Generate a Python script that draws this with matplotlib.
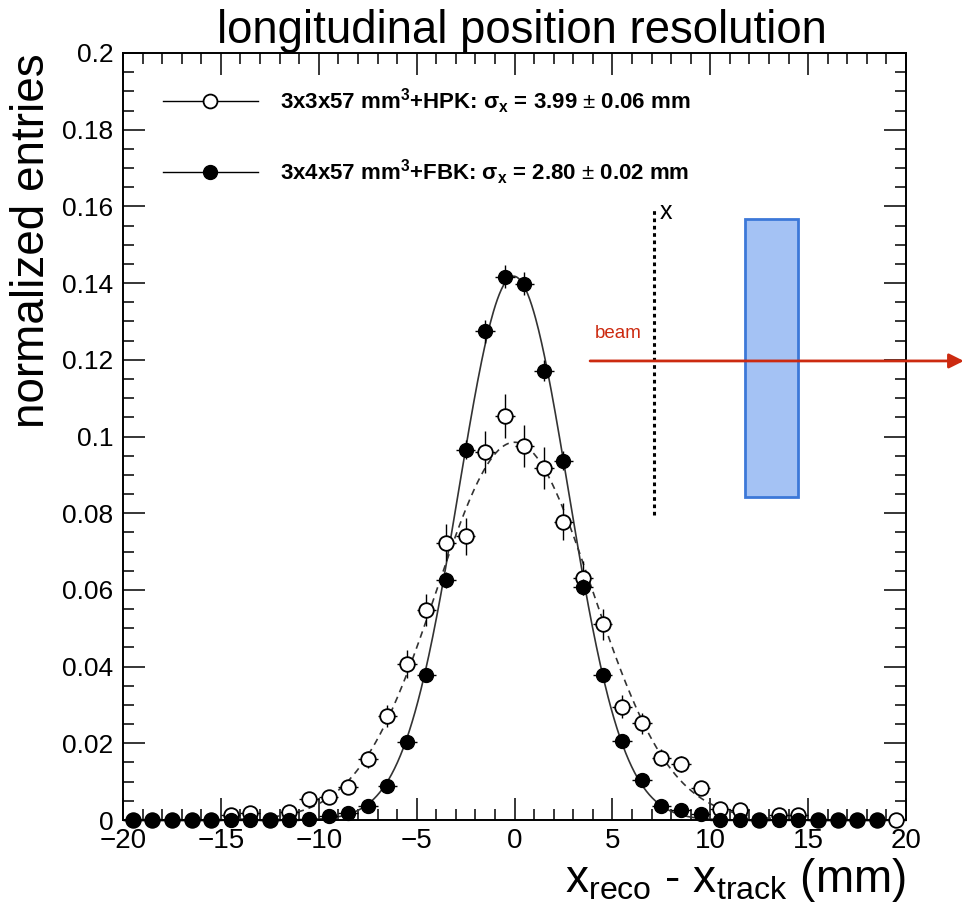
import numpy as np
import matplotlib
matplotlib.use("Agg")
import matplotlib.pyplot as plt
from matplotlib.lines import Line2D
from matplotlib.patches import Rectangle

plt.rcParams['font.family'] = ['Liberation Sans', 'DejaVu Sans']
plt.rcParams['mathtext.fontset'] = 'custom'
plt.rcParams['mathtext.rm'] = 'Liberation Sans'
plt.rcParams['mathtext.it'] = 'Liberation Sans:italic'
plt.rcParams['mathtext.bf'] = 'Liberation Sans:bold'

# ---------------- data ----------------
bin_centers = [-19.5, -18.5, -17.5, -16.5, -15.5, -14.5, -13.5, -12.5, -11.5, -10.5,
               -9.5, -8.5, -7.5, -6.5, -5.5, -4.5, -3.5, -2.5, -1.5, -0.5,
               0.5, 1.5, 2.5, 3.5, 4.5, 5.5, 6.5, 7.5, 8.5, 9.5,
               10.5, 11.5, 12.5, 13.5, 14.5, 15.5, 16.5, 17.5, 18.5, 19.5]

hpk_y = [0, 0, 0, 0, 0, 0.0012, 0.0018, 0, 0.0022, 0.0054,
         0.0059, 0.0085, 0.0158, 0.0271, 0.0407, 0.0548, 0.0723, 0.0740, 0.0960, 0.1053,
         0.0976, 0.0918, 0.0778, 0.0631, 0.0510, 0.0296, 0.0252, 0.0163, 0.0146, 0.0083,
         0.0030, 0.0026, 0, 0.0014, 0.0014, 0, 0, 0, 0, 0]
hpk_err = [0, 0, 0, 0, 0, 0.0006, 0.0008, 0, 0.0008, 0.0013,
           0.0014, 0.0016, 0.0022, 0.0029, 0.0036, 0.0041, 0.0048, 0.0048, 0.0055, 0.0057,
           0.0055, 0.0054, 0.0049, 0.0044, 0.0040, 0.0030, 0.0028, 0.0023, 0.0021, 0.0016,
           0.0010, 0.0009, 0, 0.0007, 0.0007, 0, 0, 0, 0, 0]

fbk_x = bin_centers[:-1]
fbk_y = [0, 0, 0, 0, 0, 0, 0, 0, 0, 0.0002,
         0.0011, 0.0018, 0.0036, 0.0088, 0.0203, 0.0377, 0.0626, 0.0966, 0.1274, 0.1416,
         0.1398, 0.1172, 0.0937, 0.0608, 0.0377, 0.0207, 0.0104, 0.0037, 0.0026, 0.0017,
         0, 0, 0, 0, 0, 0, 0, 0, 0]
fbk_err = [0, 0, 0, 0, 0, 0, 0, 0, 0, 0.0001,
           0.0003, 0.0004, 0.0005, 0.0008, 0.0011, 0.0015, 0.0020, 0.0025, 0.0029, 0.0030,
           0.0030, 0.0027, 0.0025, 0.0020, 0.0015, 0.0011, 0.0008, 0.0005, 0.0004, 0.0003,
           0, 0, 0, 0, 0, 0, 0, 0, 0]

# Gaussian fit parameters (amplitude, mean, sigma)
hpk_fit = (0.0985, 0.0, 3.99)
fbk_fit = (0.1418, -0.05, 2.80)

legend_labels = [r"3x3x57 mm$^{\mathbf{3}}$+HPK: σ$_{\mathbf{x}}$ = 3.99 $\pm$ 0.06 mm",
                 r"3x4x57 mm$^{\mathbf{3}}$+FBK: σ$_{\mathbf{x}}$ = 2.80 $\pm$ 0.02 mm"]
xtick_vals = [-20, -15, -10, -5, 0, 5, 10, 15, 20]
xtick_labels = ["\u221220", "\u221215", "\u221210", "\u22125", "0", "5", "10", "15", "20"]
ytick_vals = [0, 0.02, 0.04, 0.06, 0.08, 0.1, 0.12, 0.14, 0.16, 0.18, 0.2]
ytick_labels = ["0", "0.02", "0.04", "0.06", "0.08", "0.1", "0.12", "0.14", "0.16", "0.18", "0.2"]

# ---------------- figure ----------------
fig = plt.figure(figsize=(9.65, 9.15), dpi=100)
ax = fig.add_axes([0.1275, 0.1038, 0.8114, 0.8383])

xs = np.linspace(-20, 20, 800)
def gauss(x, p):
    a, m, s = p
    return a * np.exp(-0.5 * ((x - m) / s) ** 2)

ax.plot(xs, gauss(xs, hpk_fit), ls=(0, (4, 3)), color='#333333', lw=1.2, zorder=2)
ax.plot(xs, gauss(xs, fbk_fit), ls='-', color='#333333', lw=1.2, zorder=2)

ax.errorbar(bin_centers, hpk_y, yerr=hpk_err, xerr=0.5, fmt='o', ms=10.5,
            mfc='white', mec='black', mew=1.3, ecolor='black', elinewidth=1.0,
            capsize=0, zorder=3, clip_on=False)
ax.errorbar(fbk_x, fbk_y, yerr=fbk_err, xerr=0.5, fmt='o', ms=10,
            mfc='black', mec='black', ecolor='black', elinewidth=1.0,
            capsize=0, zorder=4, clip_on=False)

ax.set_xlim(-20, 20)
ax.set_ylim(0, 0.2)
ax.set_xticks(xtick_vals)
ax.set_xticklabels(xtick_labels)
ax.set_yticks(ytick_vals)
ax.set_yticklabels(ytick_labels)
ax.set_xticks(np.arange(-20, 20.01, 1), minor=True)
ax.set_yticks(np.arange(0, 0.2001, 0.005), minor=True)
ax.tick_params(which='both', direction='in', top=True, right=True, width=1.1)
ax.tick_params(which='major', length=16)
ax.tick_params(which='minor', length=8)
ax.tick_params(axis='x', labelsize=20, pad=6)
ax.tick_params(axis='y', labelsize=19, pad=7)
for sp in ax.spines.values():
    sp.set_linewidth(1.4)

ax.set_ylabel("normalized entries", fontsize=33, loc='top', labelpad=6)
ax.set_xlabel(r"x$_{\rm reco}$ - x$_{\rm track}$ (mm)", fontsize=33, loc='right', labelpad=1)
fig.text(0.541, 0.953, "longitudinal position resolution", fontsize=32.8, ha='center', va='baseline')

handles = [Line2D([], [], color='black', lw=1.0, marker='o', ms=10, mfc='white', mec='black', mew=1.3),
           Line2D([], [], color='black', lw=1.0, marker='o', ms=10, mfc='black', mec='black')]
leg = ax.legend(handles, legend_labels, loc='upper left', bbox_to_anchor=(0.025, 0.982),
                frameon=False, handlelength=4.3, handletextpad=1.0, labelspacing=1.85,
                prop={'size': 16, 'weight': 'bold'})

# ---------------- detector sketch ----------------
ax.plot([7.13, 7.13], [0.0795, 0.159], ls=(0, (1.2, 1.2)), color='black', lw=2.2, clip_on=False)
ax.text(7.4, 0.1585, "x", fontsize=18, ha='left', va='center')
ax.add_patch(Rectangle((11.78, 0.0842), 2.70, 0.0725, facecolor='#a4c2f4', edgecolor='#3c78d8', lw=2, zorder=1))
ax.annotate("", xy=(22.95, 0.1197), xytext=(3.86, 0.1197), annotation_clip=False,
            arrowprops=dict(arrowstyle='-|>', color='#cc2a10', lw=2, mutation_scale=22, shrinkA=0, shrinkB=0))
ax.text(4.1, 0.1268, "beam", fontsize=13.5, color='#cc2a10', ha='left', va='center')

fig.savefig("out.png", dpi=100)
